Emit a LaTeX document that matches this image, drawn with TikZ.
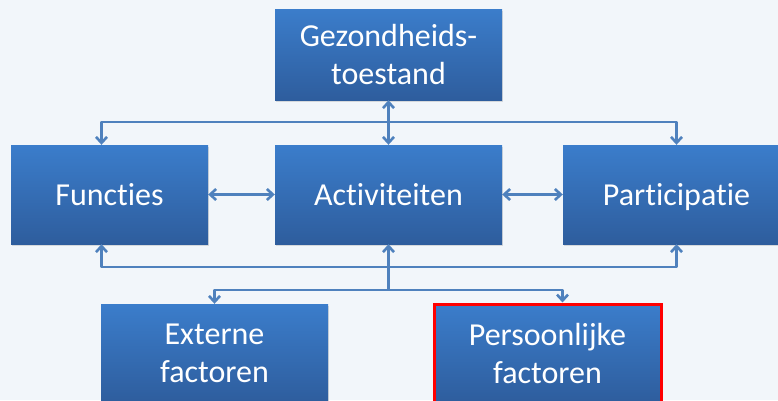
\documentclass[tikz,border=0pt]{standalone}
\usepackage{fontspec}
\setmainfont{Carlito}[Ligatures={NoCommon,NoRequired,NoContextual}]
\usetikzlibrary{arrows.meta,shadows}

\definecolor{bgblue}{RGB}{242,246,250}
\definecolor{boxtop}{RGB}{59,125,203}
\definecolor{boxbottom}{RGB}{46,93,157}
\definecolor{linkblue}{RGB}{79,129,189}

\tikzset{
  box/.style={rectangle, inner sep=0pt, align=center,
    minimum width=227pt, minimum height=99pt,
    top color=boxtop, bottom color=boxbottom, text=white,
    font=\fontsize{32}{38.5}\selectfont,
    drop shadow={opacity=0.25, shadow xshift=1pt, shadow yshift=-2pt}},
  oneline/.style={text height=28pt, text depth=6pt},
  link/.style={draw=linkblue, line width=2.6pt, line join=round},
  arr/.style={-{Straight Barb[length=6pt,width=11pt]}},
  biarr/.style={{Straight Barb[length=6pt,width=11pt]}-{Straight Barb[length=6pt,width=11pt]}},
}

\begin{document}
\begin{tikzpicture}[x=1pt,y=-1pt]

    % page and background
    \useasboundingbox (0,0) rectangle (778,400);
    \fill[bgblue] (0,0) rectangle (778,400);
    \clip (0,0) rectangle (778,400);

    % boxes
    \node[box, minimum height=91pt] (gez) at (388.5,54.5) {Gezondheids-\\toestand};
    \node[box, oneline, minimum width=197pt] (funct) at (109.5,194.5) {Functies};
    \node[box, oneline] (act) at (388.5,194.5) {Activiteiten};
    \node[box, oneline] (part) at (676.5,194.5) {Participatie};
    \node[box] (ext) at (214.5,353.5) {Externe\\factoren};
    \node[box, draw=red, line width=3pt] (pers) at (547.5,353.5) {Persoonlijke\\factoren};

    % bus points
    \coordinate (topbus) at (388.5,122);
    \coordinate (botbus) at (388.5,267);
    \coordinate (lowbus) at (388.5,290);

    % connectors
    \draw[link,biarr] (gez) -- (act);
    \draw[link,biarr] (funct) -- (act);
    \draw[link,biarr] (act) -- (part);
    \draw[link,arr] (topbus) -| ([xshift=-8pt]funct.north);
    \draw[link,arr] (topbus) -| (part.north);
    \draw[link,arr] (botbus) -| ([xshift=-8pt]funct.south);
    \draw[link,arr] (botbus) -| (part.south);
    \draw[link,arr] (lowbus) -- (act.south);
    \draw[link,arr] (lowbus) -| (ext.north);
    \draw[link,arr] (lowbus) -| ([xshift=15pt]pers.north);

\end{tikzpicture}
\end{document}
